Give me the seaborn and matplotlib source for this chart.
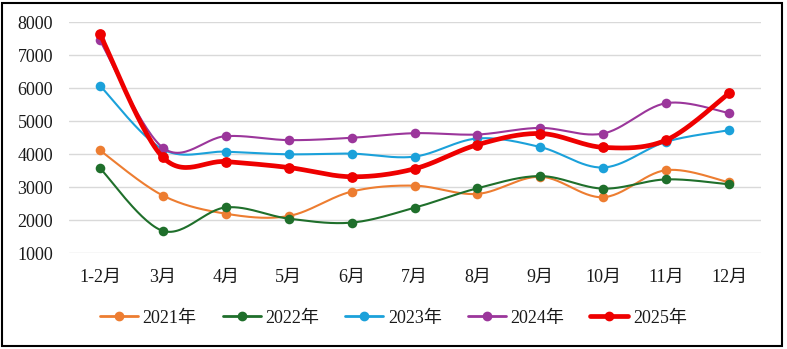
import numpy as np
import pandas as pd
import matplotlib
matplotlib.use("Agg")
import matplotlib.pyplot as plt
from matplotlib.lines import Line2D
from matplotlib.patches import Rectangle
import seaborn as sns

months = ["1-2月", "3月", "4月", "5月", "6月", "7月", "8月", "9月", "10月", "11月", "12月"]
y2021 = [4120, 2750, 2200, 2130, 2870, 3050, 2800, 3320, 2700, 3520, 3150]
y2022 = [3580, 1680, 2390, 2050, 1930, 2380, 2970, 3340, 2960, 3240, 3090]
y2023 = [6080, 4150, 4080, 4000, 4020, 3930, 4480, 4220, 3600, 4380, 4730]
y2024 = [7450, 4200, 4550, 4430, 4500, 4640, 4600, 4800, 4630, 5550, 5250]
y2025 = [7640, 3910, 3780, 3600, 3320, 3560, 4290, 4630, 4210, 4430, 5850]
series_names = ["2021年", "2022年", "2023年", "2024年", "2025年"]
yticks = [1000, 2000, 3000, 4000, 5000, 6000, 7000, 8000]

colors = ["#ED7D31", "#1F6F2B", "#1BA1DA", "#9B369B", "#EE0000"]
lws = [1.5, 1.5, 1.5, 1.5, 3.4]
msz = [48, 48, 48, 48, 60]

sns.set_theme(style="white")
plt.rcParams['font.family'] = ['Liberation Serif', 'Noto Sans CJK SC', 'DejaVu Sans']


def smooth(xv, yv, n=30):
    """Excel-like Bezier smoothing through the given points (for drawing)."""
    P = np.column_stack([xv, yv]).astype(float)
    m = len(P)
    out = []
    for i in range(m - 1):
        p0 = P[i - 1] if i > 0 else P[i]
        p1 = P[i]
        p2 = P[i + 1]
        p3 = P[i + 2] if i + 2 < m else P[i + 1]
        c1 = p1 + (p2 - p0) / 6.0
        c2 = p2 - (p3 - p1) / 6.0
        t = np.linspace(0, 1, n, endpoint=(i == m - 2))[:, None]
        seg = ((1 - t) ** 3) * p1 + 3 * ((1 - t) ** 2) * t * c1 + 3 * (1 - t) * t ** 2 * c2 + t ** 3 * p2
        out.append(seg)
    out = np.vstack(out)
    return out[:, 0], out[:, 1]


fig = plt.figure(figsize=(7.87, 3.49), dpi=100)
ax = fig.add_axes([68.5 / 787, 1 - 253.3 / 349, 692 / 787, 231 / 349])

xidx = np.arange(len(months))
all_series = [y2021, y2022, y2023, y2024, y2025]
for k, (vals, name) in enumerate(zip(all_series, series_names)):
    sx, sy = smooth(xidx, vals)
    df = pd.DataFrame({"x": sx, "y": sy})
    sns.lineplot(data=df, x="x", y="y", ax=ax, color=colors[k], linewidth=lws[k],
                 sort=False, estimator=None, zorder=2 + k)
    dfp = pd.DataFrame({"x": xidx, "y": vals})
    sns.scatterplot(data=dfp, x="x", y="y", ax=ax, color=colors[k], s=msz[k],
                    edgecolor=colors[k], linewidth=0, zorder=2.5 + k)

ax.set_xlim(-0.5, len(months) - 0.5)
ax.set_ylim(1000, 8000)
ax.set_xticks(xidx)
ax.set_xticklabels(months, fontsize=13)
ax.set_yticks(yticks)
ax.set_yticklabels([str(v) for v in yticks], fontsize=13)
ax.tick_params(axis='both', length=0, colors='#1a1a1a')
ax.tick_params(axis='x', pad=11)
ax.tick_params(axis='y', pad=11)
ax.yaxis.grid(True, color='#D9D9D9', linewidth=1)
ax.xaxis.grid(False)
for s in ax.spines.values():
    s.set_visible(False)
ax.set_xlabel("")
ax.set_ylabel("")

handles = [Line2D([0], [0], color=c, lw=(2.0 if lw < 2 else 3.4), marker='o', markersize=6)
           for c, lw in zip(colors, lws)]
fig.legend(handles, series_names, loc='center', bbox_to_anchor=(0.5, 1 - 318 / 349),
           ncol=5, frameon=False, fontsize=13, handlelength=2.1, handletextpad=0.25,
           columnspacing=1.45, labelcolor='#1a1a1a')

fig.add_artist(Rectangle((2 / 787, 3 / 349), 780 / 787, 343 / 349, transform=fig.transFigure,
                         fill=False, edgecolor='black', linewidth=1.5))

fig.savefig("out.png", dpi=100)
